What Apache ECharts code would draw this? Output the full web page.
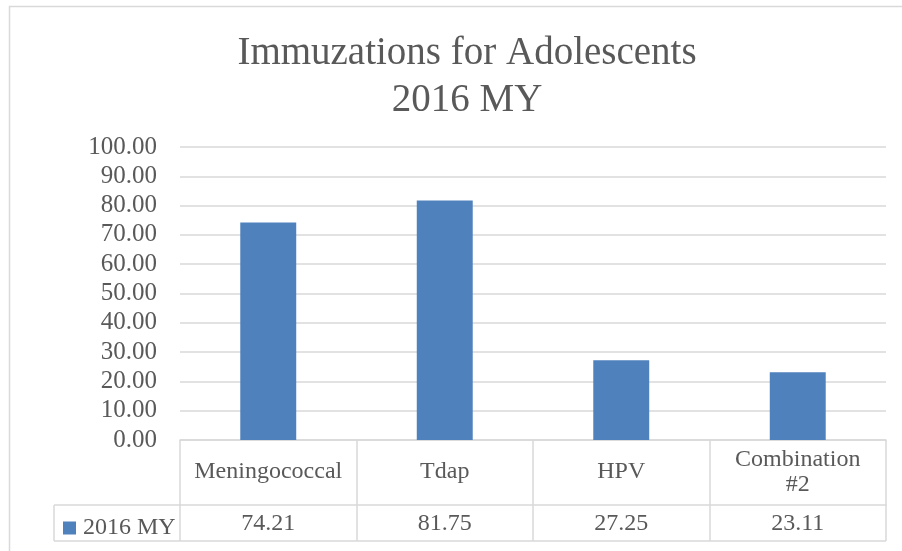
<!DOCTYPE html>
<html>
<head>
<meta charset="utf-8">
<script src="https://cdn.jsdelivr.net/npm/echarts@6/dist/echarts.min.js"></script>
<style>html,body{margin:0;padding:0;background:#fff}#c{width:902px;height:551px}</style>
</head>
<body>
<div id="c"></div>
<script>
var categories = ['Meningococcal', 'Tdap', 'HPV', 'Combination #2'];
var values2016 = [74.21, 81.75, 27.25, 23.11];
var seriesName = '2016 MY';
var titleText = 'Immuzations for Adolescents\n2016 MY';

var FONT = '"Liberation Serif", "Times New Roman", serif';
var TXT = '#595959';
var LINE = '#d9d9d9';

var chart = echarts.init(document.getElementById('c'), null, {renderer: 'canvas'});
chart.setOption({
  animation: false,
  backgroundColor: '#fff',
  title: {
    text: titleText,
    left: 462, top: 25, textAlign: 'center',
    textStyle: {fontFamily: FONT, fontSize: 39, fontWeight: 'normal', color: TXT, lineHeight: 47}
  },
  legend: {
    data: [seriesName],
    left: 58, top: 511,
    itemWidth: 13, itemHeight: 13, itemGap: 4,
    icon: 'rect',
    textStyle: {fontFamily: FONT, fontSize: 24, color: TXT, padding: [0, 0, 0, 2]}
  },
  grid: {left: 180, right: 16, top: 147, bottom: 111},
  xAxis: [{
    type: 'category',
    data: categories,
    position: 'bottom',
    axisLine: {show: true, lineStyle: {color: LINE, width: 1.5}},
    axisTick: {show: true, length: 101, lineStyle: {color: LINE, width: 1.5}},
    axisLabel: {
      margin: 32, verticalAlign: 'middle', interval: 0,
      fontFamily: FONT, fontSize: 24, color: TXT, lineHeight: 25,
      formatter: function (v) { return v.replace(' #', '\n#'); }
    }
  }, {
    type: 'category',
    data: categories,
    position: 'bottom',
    offset: 65,
    axisLine: {show: true, lineStyle: {color: LINE, width: 1.5}},
    axisTick: {show: false},
    axisLabel: {
      margin: 19, verticalAlign: 'middle', interval: 0,
      fontFamily: FONT, fontSize: 24, color: TXT,
      formatter: function (v, i) { return values2016[i].toFixed(2); }
    }
  }],
  yAxis: {
    type: 'value', min: 0, max: 100, interval: 10,
    axisLine: {show: false}, axisTick: {show: false},
    splitLine: {lineStyle: {color: LINE, width: 1.5}},
    axisLabel: {
      margin: 23, fontFamily: FONT, fontSize: 25, color: TXT,
      formatter: function (v) { return v.toFixed(2); }
    }
  },
  series: [{
    name: seriesName,
    type: 'bar',
    xAxisIndex: 0,
    data: values2016,
    barWidth: '31.7%',
    itemStyle: {color: '#4F81BD'}
  }],
  graphic: [
    {type: 'rect', shape: {x: 9.5, y: 6.5, width: 905, height: 560}, style: {fill: 'none', stroke: LINE, lineWidth: 1.5}, silent: true},
    {type: 'line', shape: {x1: 54, y1: 505, x2: 181, y2: 505}, style: {stroke: LINE, lineWidth: 1.5}},
    {type: 'line', shape: {x1: 54, y1: 541, x2: 886, y2: 541}, style: {stroke: LINE, lineWidth: 1.5}},
    {type: 'line', shape: {x1: 54, y1: 505, x2: 54, y2: 541}, style: {stroke: LINE, lineWidth: 1.5}}
  ]
});
</script>
</body>
</html>
